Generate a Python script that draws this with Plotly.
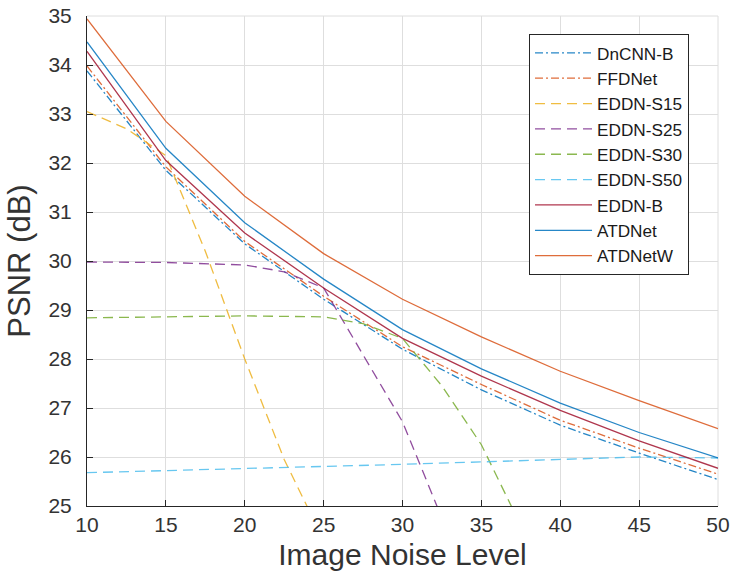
import plotly.graph_objects as go

# ---- data ----
x_main = [10, 15, 20, 25, 30, 35, 40, 45, 50]
dncnn_b = [33.88, 31.85, 30.35, 29.22, 28.20, 27.37, 26.65, 26.08, 25.54]
ffdnet = [33.98, 31.92, 30.40, 29.28, 28.25, 27.48, 26.75, 26.18, 25.65]
eddn_b = [34.28, 32.05, 30.57, 29.45, 28.42, 27.65, 26.95, 26.33, 25.77]
atdnet = [34.47, 32.30, 30.78, 29.63, 28.60, 27.80, 27.10, 26.50, 25.98]
atdnetw = [34.94, 32.85, 31.32, 30.15, 29.22, 28.45, 27.75, 27.15, 26.58]

x_s15 = [10, 12.5, 15, 17.5, 20, 22.5, 25]
eddn_s15 = [33.05, 32.70, 32.15, 30.20, 28.00, 25.95, 24.30]

x_s25 = [10, 15, 20, 22.5, 25, 27.5, 30, 32.5, 35]
eddn_s25 = [29.98, 29.97, 29.92, 29.78, 29.45, 28.10, 26.72, 24.75, 22.60]

x_s30 = [10, 15, 20, 25, 27.5, 30, 32.5, 35, 37.5]
eddn_s30 = [28.84, 28.86, 28.88, 28.86, 28.72, 28.42, 27.45, 26.25, 24.60]

x_s50 = [10, 15, 20, 25, 30, 35, 40, 45, 50]
eddn_s50 = [25.68, 25.72, 25.76, 25.80, 25.85, 25.90, 25.95, 26.00, 25.98]

x_ticks = [10, 15, 20, 25, 30, 35, 40, 45, 50]
y_ticks = [25, 26, 27, 28, 29, 30, 31, 32, 33, 34, 35]

# ---- styles ----
DASHDOT = "8px,3px,2px,3px"
DASH = "10px,6px"
series = [
    ("DnCNN-B", x_main, dncnn_b, "#0072BD", DASHDOT),
    ("FFDNet", x_main, ffdnet, "#D95319", DASHDOT),
    ("EDDN-S15", x_s15, eddn_s15, "#EDB120", DASH),
    ("EDDN-S25", x_s25, eddn_s25, "#7E2F8E", DASH),
    ("EDDN-S30", x_s30, eddn_s30, "#77AC30", DASH),
    ("EDDN-S50", x_s50, eddn_s50, "#4DBEEE", DASH),
    ("EDDN-B", x_main, eddn_b, "#A2142F", "solid"),
    ("ATDNet", x_main, atdnet, "#0072BD", "solid"),
    ("ATDNetW", x_main, atdnetw, "#D95319", "solid"),
]

fig = go.Figure()
for name, xs, ys, color, dash in series:
    fig.add_trace(go.Scatter(
        x=xs, y=ys, mode="lines", name=name, opacity=0.85,
        line=dict(color=color, width=1.3, dash=dash),
    ))

FONT = "Liberation Sans, Arial, sans-serif"
AX = "#262626"
GRID = "#dedede"

fig.update_layout(
    width=738, height=579,
    margin=dict(l=87, r=20, t=16, b=73, autoexpand=False),
    paper_bgcolor="white", plot_bgcolor="white",
    font=dict(family=FONT, color=AX),
    showlegend=True,
    legend=dict(
        x=0.7005, y=0.963, xanchor="left", yanchor="top",
        bgcolor="white", bordercolor=AX, borderwidth=1,
        font=dict(family=FONT, size=17.2, color="#1a1a1a"),
        itemwidth=57, tracegroupgap=0, entrywidth=95,
    ),
    xaxis=dict(
        range=[10, 50], tickvals=x_ticks, ticktext=[str(v) for v in x_ticks],
        showgrid=True, gridcolor=GRID, gridwidth=1, zeroline=False,
        showline=True, linecolor=AX, linewidth=1, automargin=False,
        ticks="inside", ticklen=6, tickcolor=AX,
        tickfont=dict(family=FONT, size=21, color="#333333"),
        title=dict(text="Image Noise Level", font=dict(family=FONT, size=30, color="#333333"), standoff=8),
    ),
    yaxis=dict(
        range=[25, 35], tickvals=y_ticks, ticktext=[str(v) for v in y_ticks],
        showgrid=True, gridcolor=GRID, gridwidth=1, zeroline=False,
        showline=True, linecolor=AX, linewidth=1, automargin=False,
        ticks="inside", ticklen=6, tickcolor=AX,
        tickfont=dict(family=FONT, size=21, color="#333333"),
        ticklabelstandoff=10,
        title=dict(text="PSNR (dB)", font=dict(family=FONT, size=31, color="#333333"), standoff=8),
    ),
)

# light top/right edges like the grid at the limits
fig.add_shape(type="line", xref="paper", yref="paper", x0=0, x1=1, y0=1, y1=1,
              line=dict(color=GRID, width=1), layer="below")
fig.add_shape(type="line", xref="paper", yref="paper", x0=1, x1=1, y0=0, y1=1,
              line=dict(color=GRID, width=1), layer="below")

fig.write_html("out.html", config={"displayModeBar": False},
               post_script="document.body.style.margin='0';")
